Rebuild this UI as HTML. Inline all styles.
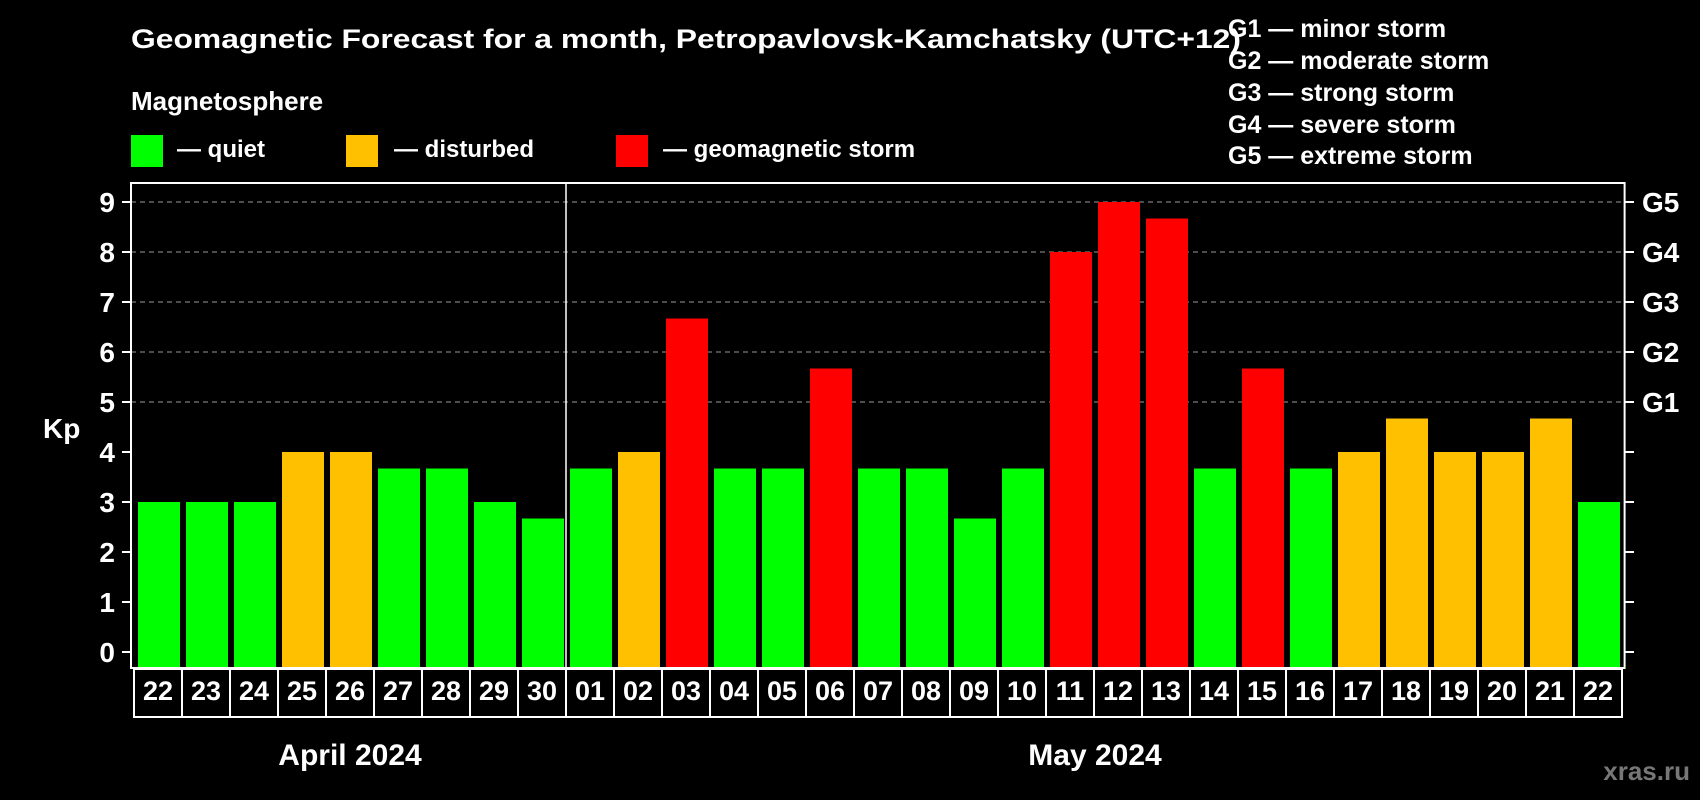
<!DOCTYPE html>
<html><head><meta charset="utf-8"><style>
html,body{margin:0;padding:0;background:#000;}
svg{display:block;font-family:"Liberation Sans",Arial,sans-serif;font-weight:bold;}
</style></head><body>
<svg id="chart" width="1700" height="800" viewBox="0 0 1700 800">
<rect x="0" y="0" width="1700" height="800" fill="#000"/>
<text x="131" y="48" fill="#fff" font-size="27" textLength="1110" lengthAdjust="spacingAndGlyphs">Geomagnetic Forecast for a month, Petropavlovsk-Kamchatsky (UTC+12)</text>
<text x="131" y="110" fill="#fff" font-size="26">Magnetosphere</text>
<rect x="131" y="135" width="32" height="32" fill="#00ff00"/>
<text x="177" y="157" fill="#fff" font-size="24">— quiet</text>
<rect x="346" y="135" width="32" height="32" fill="#ffc000"/>
<text x="394" y="157" fill="#fff" font-size="24">— disturbed</text>
<rect x="616" y="135" width="32" height="32" fill="#ff0000"/>
<text x="663" y="157" fill="#fff" font-size="24">— geomagnetic storm</text>
<g fill="#fff" font-size="25">
<text x="1228" y="37">G1 — minor storm</text>
<text x="1228" y="69">G2 — moderate storm</text>
<text x="1228" y="101">G3 — strong storm</text>
<text x="1228" y="133">G4 — severe storm</text>
<text x="1228" y="164">G5 — extreme storm</text>
</g>
<text x="43" y="438" fill="#fff" font-size="28">Kp</text>
<g id="grid"></g>
<g id="bars"></g>
<g id="axes"></g>
<g id="labels"></g>
<text x="350" y="765" fill="#fff" font-size="30" text-anchor="middle">April 2024</text>
<text x="1095" y="765" fill="#fff" font-size="30" text-anchor="middle">May 2024</text>
<text x="1690" y="780" fill="#777" font-size="26" text-anchor="end">xras.ru</text>
</svg>
<script>
const days = ["22","23","24","25","26","27","28","29","30","01","02","03","04","05","06","07","08","09","10","11","12","13","14","15","16","17","18","19","20","21","22"];
const kpValues = [3,3,3,4,4,3.67,3.67,3,2.67,3.67,4,6.67,3.67,3.67,5.67,3.67,3.67,2.67,3.67,8,9,8.67,3.67,5.67,3.67,4,4.67,4,4,4.67,3];
const statuses = ["q","q","q","d","d","q","q","q","q","q","d","s","q","q","s","q","q","q","q","s","s","s","q","s","q","d","d","d","d","d","q"];
const yTicks = [0,1,2,3,4,5,6,7,8,9];
const gLabels = ["G1","G2","G3","G4","G5"];
const gLevels = [5,6,7,8,9];
const monthSplitIndex = 9;

const NS="http://www.w3.org/2000/svg";
const PL=131, PR=1624.6, PT=183, PB=668;
const X0=134, STEP=48, BW=42;
const y = v => 652 - v*50;
const xc = i => X0 + STEP*i + STEP/2;
const colors = {q:"#00ff00", d:"#ffc000", s:"#ff0000"};
function mk(tag, attrs, parent){const e=document.createElementNS(NS,tag);for(const k in attrs)e.setAttribute(k,attrs[k]);parent.appendChild(e);return e;}
const grid=document.getElementById("grid"), bars=document.getElementById("bars"), axes=document.getElementById("axes"), labels=document.getElementById("labels");

gLevels.forEach((lv,i)=>{
  const l=mk("line",{x1:PL,x2:PR,y1:y(lv),y2:y(lv),stroke:"#999","stroke-width":1,"stroke-dasharray":"5,4"},grid);
  
  
  const t=mk("text",{x:1642,y:y(lv)+10,fill:"#fff","font-size":28},axes);
  t.textContent=gLabels[i];
  
  
});

kpValues.forEach((v,i)=>{
  const r=mk("rect",{x:xc(i)-BW/2+1,y:y(v),width:BW,height:PB-y(v)-1,fill:colors[statuses[i]]},bars);
  
  
});

const frame=mk("rect",{x:PL,y:PT,width:PR-PL,height:PB-PT,fill:"none",stroke:"#fff","stroke-width":2},axes);


const split=X0+STEP*monthSplitIndex;
const div=mk("line",{x1:split,x2:split,y1:PT,y2:PB,stroke:"#fff","stroke-width":1.5},axes);



yTicks.forEach(v=>{
  mk("line",{x1:122,x2:PL,y1:y(v),y2:y(v),stroke:"#fff","stroke-width":2},axes);
  mk("line",{x1:PR,x2:1634,y1:y(v),y2:y(v),stroke:"#fff","stroke-width":2},axes);
  const t=mk("text",{x:115,y:y(v)+10,fill:"#fff","font-size":28,"text-anchor":"end"},axes);
  t.textContent=v;
  
  
});

days.forEach((d,i)=>{
  const b=mk("rect",{x:X0+STEP*i,y:669,width:STEP,height:48,fill:"#000",stroke:"#fff","stroke-width":2},labels);
  
  
  const t=mk("text",{x:xc(i),y:700,fill:"#fff","font-size":27,"text-anchor":"middle"},labels);
  t.textContent=d;
  
  
});
</script>
</body></html>
